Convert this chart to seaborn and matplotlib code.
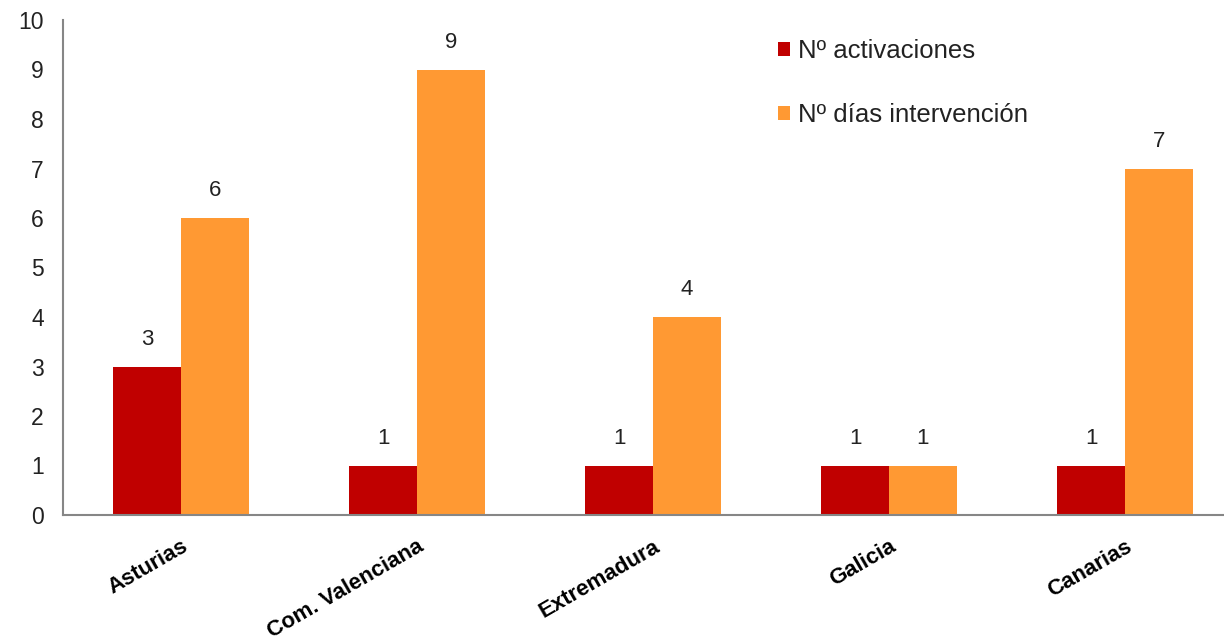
import pandas as pd
import matplotlib.pyplot as plt
import seaborn as sns

# datos
regiones = ["Asturias", "Com. Valenciana", "Extremadura", "Galicia", "Canarias"]
activaciones = [3, 1, 1, 1, 1]
dias_intervencion = [6, 9, 4, 1, 7]
series = ["Nº activaciones", "Nº días intervención"]
colores = ["#C00000", "#FF9933"]

df = pd.DataFrame({
    "region": regiones * 2,
    "serie": [series[0]] * len(regiones) + [series[1]] * len(regiones),
    "valor": activaciones + dias_intervencion,
})

sns.set_style("white")
plt.rcParams["font.family"] = ["Liberation Sans", "DejaVu Sans"]

fig = plt.figure(figsize=(12.24, 6.41), dpi=100)
# el eje sigue mas alla del borde derecho, como en el original recortado
ax = fig.add_axes([63 / 1224, 126 / 641, 1180 / 1224, 495 / 641])

sns.barplot(data=df, x="region", y="valor", hue="serie", palette=colores,
            width=0.576, saturation=1, linewidth=0, ax=ax, legend=True)

# etiquetas de valor
for cont in ax.containers:
    ax.bar_label(cont, fmt="%d", padding=12, fontsize=16, color="#222222")

ax.set_ylim(0, 10)
ax.set_xlim(-0.5, 4.5)
ax.set_yticks(range(0, 11))
ax.set_xlabel("")
ax.set_ylabel("")

# ticks entre categorias
ax.set_xticks([i - 0.5 for i in range(len(regiones) + 1)], minor=True)
ax.tick_params(axis="x", which="major", length=0, pad=15)
ax.tick_params(axis="x", which="minor", length=5.8, width=1.5, color="#868686", direction="out")
ax.tick_params(axis="y", length=5.8, width=1.5, color="#868686", direction="out",
               labelsize=16.5, pad=8, labelcolor="#222222")

for lbl in ax.get_xticklabels():
    lbl.set_rotation(30)
    lbl.set_ha("right")
    lbl.set_rotation_mode("anchor")
    lbl.set_fontweight("bold")
    lbl.set_fontsize(16)
    lbl.set_color("black")

for s in ["top", "right"]:
    ax.spines[s].set_visible(False)
for s in ["left", "bottom"]:
    ax.spines[s].set_color("#868686")
    ax.spines[s].set_linewidth(1.5)

handles, labels = ax.get_legend_handles_labels()
ax.get_legend().remove()
fig.legend(handles, labels, loc="upper left", bbox_to_anchor=(778 / 1224, 1 - 39 / 641),
           frameon=False, fontsize=18.5, handlelength=0.48, handleheight=0.48,
           handletextpad=0.3, labelspacing=1.55, borderpad=0, borderaxespad=0,
           labelcolor="#222222")

fig.savefig("out.png", dpi=100)
